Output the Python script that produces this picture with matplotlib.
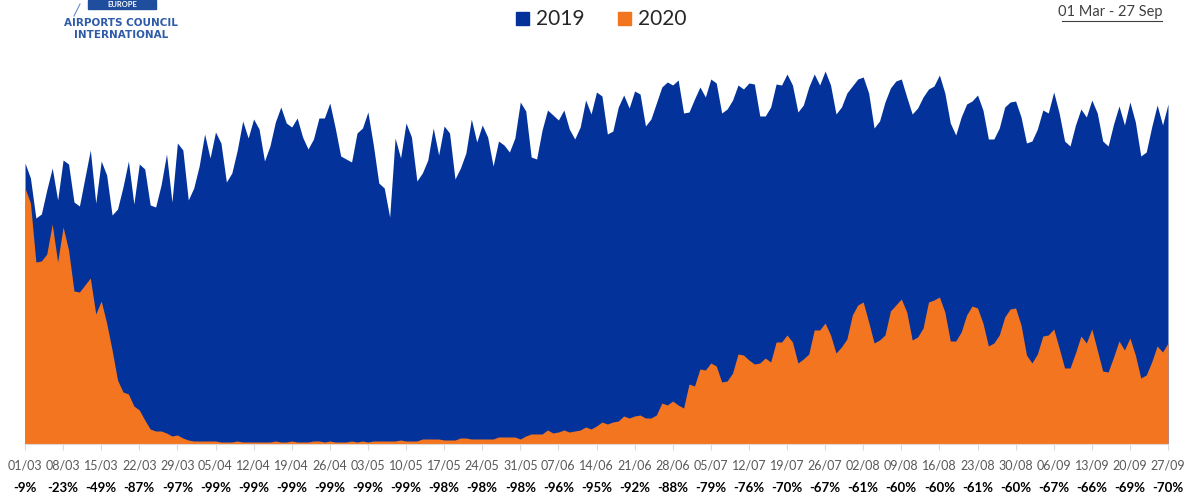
import matplotlib
matplotlib.use("Agg")
from matplotlib import pyplot as plt
from matplotlib.patches import Rectangle
from matplotlib.lines import Line2D
from matplotlib.transforms import blended_transform_factory
import numpy as np

# daily values, 01 Mar - 27 Sep (index)
y2019 = [281, 266, 226, 230, 254, 276, 244,
         284, 280, 242, 238, 266, 294, 241,
         283, 269, 229, 235, 257, 283, 240,
         280, 275, 239, 237, 259, 290, 242,
         301, 294, 244, 256, 278, 310, 286,
         312, 301, 262, 271, 294, 323, 306,
         325, 315, 283, 298, 322, 337, 321,
         317, 326, 307, 295, 305, 326, 326,
         341, 316, 288, 285, 282, 311, 316,
         332, 299, 261, 256, 227, 306, 286,
         321, 307, 263, 271, 284, 316, 289,
         318, 311, 265, 276, 291, 325, 302,
         319, 307, 278, 303, 299, 292, 306,
         342, 333, 287, 285, 314, 334, 329,
         324, 334, 315, 305, 317, 344, 330,
         352, 348, 310, 313, 337, 349, 336,
         353, 350, 318, 325, 341, 357, 362,
         359, 364, 331, 332, 345, 357, 347,
         365, 361, 331, 335, 344, 359, 355,
         361, 360, 328, 328, 337, 360, 359,
         370, 359, 332, 339, 357, 370, 359,
         373, 359, 330, 337, 351, 358, 365,
         367, 351, 316, 323, 342, 356, 363,
         365, 347, 330, 336, 347, 355, 358,
         369, 351, 321, 309, 327, 340, 343,
         349, 334, 305, 305, 316, 337, 342,
         343, 327, 301, 303, 315, 334, 331,
         352, 331, 303, 298, 319, 335, 327,
         344, 331, 303, 298, 320, 338, 319,
         342, 322, 288, 292, 317, 339, 319,
         340]

y2020 = [256, 241, 182, 183, 190, 220, 182,
         217, 194, 153, 152, 159, 166, 130,
         143, 121, 94, 64, 52, 50, 38,
         34, 24, 15, 13, 13, 11, 8,
         9, 6, 4, 3, 3, 3, 3,
         3, 2, 2, 2, 3, 2, 2,
         2, 2, 2, 2, 3, 2, 2,
         3, 2, 2, 2, 3, 3, 2,
         3, 2, 2, 2, 3, 2, 3,
         2, 3, 3, 3, 3, 3, 4,
         3, 3, 3, 5, 5, 5, 5,
         4, 4, 4, 6, 6, 5, 5,
         5, 5, 5, 7, 7, 7, 7,
         5, 8, 10, 10, 10, 14, 11,
         12, 14, 12, 13, 14, 17, 15,
         18, 22, 20, 22, 23, 28, 26,
         28, 29, 26, 26, 29, 41, 39,
         43, 39, 36, 60, 58, 75, 74,
         81, 78, 62, 63, 71, 90, 89,
         84, 80, 81, 86, 82, 102, 102,
         109, 102, 81, 85, 90, 114, 114,
         121, 109, 91, 97, 105, 129, 139,
         142, 122, 101, 104, 109, 133, 139,
         145, 132, 104, 107, 116, 142, 144,
         147, 132, 103, 103, 112, 129, 138,
         136, 121, 98, 101, 109, 127, 135,
         136, 119, 89, 81, 90, 108, 109,
         115, 96, 76, 76, 91, 108, 101,
         115, 94, 73, 72, 87, 103, 94,
         106, 89, 66, 69, 82, 98, 92,
         101]

week_labels = ["01/03", "08/03", "15/03", "22/03", "29/03", "05/04", "12/04",
               "19/04", "26/04", "03/05", "10/05", "17/05", "24/05", "31/05",
               "07/06", "14/06", "21/06", "28/06", "05/07", "12/07", "19/07",
               "26/07", "02/08", "09/08", "16/08", "23/08", "30/08", "06/09",
               "13/09", "20/09", "27/09"]
week_change = ["-9%", "-23%", "-49%", "-87%", "-97%", "-99%", "-99%", "-99%",
               "-99%", "-99%", "-99%", "-98%", "-98%", "-98%", "-96%", "-95%",
               "-92%", "-88%", "-79%", "-76%", "-70%", "-67%", "-61%", "-60%",
               "-60%", "-61%", "-60%", "-67%", "-66%", "-69%", "-70%"]

blue = "#03339A"
orange = "#F4751F"
acie = "#2E5BA8"
plt.rcParams["font.family"] = ["Lato", "DejaVu Sans"]

fig = plt.figure(figsize=(11.92, 4.95), dpi=100)
ax = fig.add_axes([25 / 1192, 51 / 495, 1143 / 1192, 384 / 495])

days = np.arange(len(y2019))
ax.fill_between(days, 0, y2019, color=blue, lw=0)
ax.fill_between(days, 0, y2020, color=orange, lw=0)

ax.set_xlim(0, len(y2019) - 1)
ax.set_ylim(0, 384)
ax.set_yticks([])
for s in ["top", "left", "right"]:
    ax.spines[s].set_visible(False)
ax.spines["bottom"].set_color("#d9d9d9")
ax.set_xticks(days[::7])
ax.set_xticklabels(week_labels)
ax.tick_params(axis="x", colors="#d9d9d9", length=4, labelcolor="#595959",
               labelsize=9, pad=7)

trans = blended_transform_factory(ax.transData, ax.transAxes)
for d, txt in zip(days[::7], week_change):
    ax.text(d, -0.115, txt, transform=trans, ha="center", va="center",
            fontsize=9.5, fontweight="bold", color="black")

# legend
fig.patches.append(Rectangle((516 / 1192, 1 - 25 / 495), 13 / 1192, 13 / 495,
                             transform=fig.transFigure, color=blue))
fig.text(536 / 1192, 1 - 19 / 495, "2019", fontsize=15, va="center", color="#262626")
fig.patches.append(Rectangle((618 / 1192, 1 - 25 / 495), 13 / 1192, 13 / 495,
                             transform=fig.transFigure, color=orange))
fig.text(638 / 1192, 1 - 19 / 495, "2020", fontsize=15, va="center", color="#262626")

# period, underlined
fig.text(1162 / 1192, 1 - 12 / 495, "01 Mar - 27 Sep", fontsize=10.5, ha="right",
         va="center", color="#404040")
fig.lines.append(Line2D([1062 / 1192, 1162 / 1192], [1 - 21 / 495, 1 - 21 / 495],
                        transform=fig.transFigure, color="#404040", lw=0.8))

# logo
fig.patches.append(Rectangle((88 / 1192, 1 - 9 / 495), 68 / 1192, 9 / 495,
                             transform=fig.transFigure, color="#1F4E9E"))
fig.text(122 / 1192, 1 - 4.5 / 495, "EUROPE", fontsize=5.5, ha="center", va="center",
         color="white", fontweight="bold")
fig.lines.append(Line2D([74 / 1192, 80 / 1192], [1 - 16 / 495, 1 - 4 / 495],
                        transform=fig.transFigure, color="#6A8CC8", lw=0.8))
fig.text(121 / 1192, 1 - 23 / 495, "AIRPORTS COUNCIL", fontsize=7.5, ha="center",
         va="center", color=acie, fontweight="bold", family="Liberation Sans Narrow")
fig.text(121 / 1192, 1 - 35 / 495, "INTERNATIONAL", fontsize=7.5, ha="center",
         va="center", color=acie, fontweight="bold", family="Liberation Sans Narrow")

fig.savefig("out.png", dpi=100)
